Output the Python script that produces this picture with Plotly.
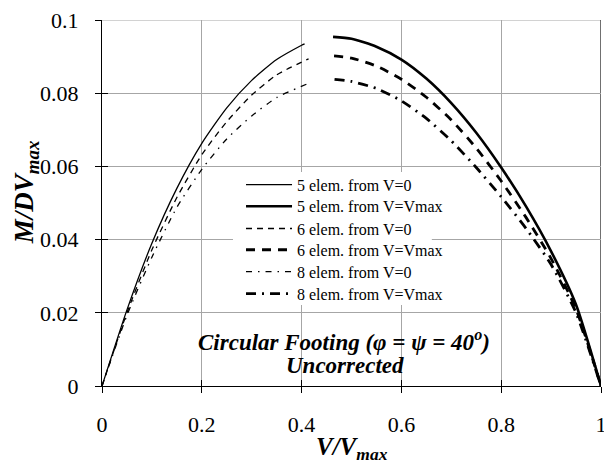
import plotly.graph_objects as go

# ---- data ----
names = ["5 elem. from V=0", "5 elem. from V=Vmax",
         "6 elem. from V=0", "6 elem. from V=Vmax",
         "8 elem. from V=0", "8 elem. from V=Vmax"]

x_5_v0 = [0, 0.05, 0.10, 0.15, 0.20, 0.25, 0.30, 0.35, 0.40, 0.406]
y_5_v0 = [0, 0.0208, 0.0390, 0.0540, 0.0663, 0.0760, 0.0835, 0.0892, 0.0931, 0.0935]

x_5_vm = [0.463, 0.50, 0.55, 0.60, 0.65, 0.70, 0.75, 0.80, 0.85, 0.90, 0.95, 1.0]
y_5_vm = [0.0954, 0.0949, 0.0927, 0.0892, 0.0840, 0.0773, 0.0692, 0.0597, 0.0490, 0.0368, 0.0222, 0]

x_6_v0 = [0, 0.05, 0.10, 0.15, 0.20, 0.25, 0.30, 0.35, 0.414]
y_6_v0 = [0, 0.0200, 0.0372, 0.0515, 0.0632, 0.0722, 0.0795, 0.0850, 0.0894]

x_6_vm = [0.465, 0.50, 0.55, 0.60, 0.65, 0.70, 0.75, 0.80, 0.85, 0.90, 0.95, 1.0]
y_6_vm = [0.0902, 0.0896, 0.0874, 0.0838, 0.0789, 0.0727, 0.0650, 0.0560, 0.0460, 0.0348, 0.0210, 0]

x_8_v0 = [0, 0.05, 0.10, 0.15, 0.20, 0.25, 0.30, 0.35, 0.414]
y_8_v0 = [0, 0.0193, 0.0352, 0.0488, 0.0592, 0.0675, 0.0738, 0.0788, 0.0827]

x_8_vm = [0.466, 0.50, 0.55, 0.60, 0.65, 0.70, 0.75, 0.80, 0.85, 0.90, 0.95, 1.0]
y_8_vm = [0.0838, 0.0832, 0.0813, 0.0779, 0.0731, 0.0670, 0.0597, 0.0517, 0.0430, 0.0332, 0.0200, 0]

x_ticks = [0, 0.2, 0.4, 0.6, 0.8, 1]
x_tick_labels = ["0", "0.2", "0.4", "0.6", "0.8", "1"]
y_ticks = [0, 0.02, 0.04, 0.06, 0.08, 0.1]
y_tick_labels = ["0", "0.02", "0.04", "0.06", "0.08", "0.1"]

series = [(x_5_v0, y_5_v0), (x_5_vm, y_5_vm), (x_6_v0, y_6_v0),
          (x_6_vm, y_6_vm), (x_8_v0, y_8_v0), (x_8_vm, y_8_vm)]

styles = [
    dict(width=1.3, dash="solid"),
    dict(width=2.6, dash="solid"),
    dict(width=1.3, dash="6px,5px"),
    dict(width=2.8, dash="9px,7px"),
    dict(width=1.3, dash="6px,6px,1.5px,6px"),
    dict(width=2.8, dash="10px,6px,2px,6px"),
]

FONT = "Liberation Serif"

# legend row centres (paper fraction of plot height)
legend_rows = [0.550, 0.491, 0.430, 0.372, 0.312, 0.252]
legend_keys = ["legend", "legend2", "legend3", "legend4", "legend5", "legend6"]

fig = go.Figure()
for (xs, ys), nm, st, lk in zip(series, names, styles, legend_keys):
    fig.add_trace(go.Scatter(
        x=xs, y=ys, name=nm, mode="lines", legend=lk,
        line=dict(color="black", width=st["width"], dash=st["dash"], shape="spline", smoothing=0.6),
        hoverinfo="skip"))

# helper trace for overlay axes (inside half of the crossing ticks)
fig.add_trace(go.Scatter(x=[None], y=[None], xaxis="x2", yaxis="y2", showlegend=False, hoverinfo="skip"))

axis_common = dict(
    showline=True, linecolor="black", linewidth=1,
    ticks="outside", ticklen=6, tickcolor="black", tickwidth=1,
    tickfont=dict(family=FONT, size=22, color="black"),
    gridcolor="#a6a6a6", gridwidth=1, zeroline=False, automargin=False,
    ticklabeloverflow="allow",
)

layout_legends = {}
for lk, yr in zip(legend_keys, legend_rows):
    layout_legends[lk] = dict(x=0.2786, y=yr, xanchor="left", yanchor="middle",
                              bgcolor="rgba(0,0,0,0)", borderwidth=0, itemwidth=46,
                              font=dict(family=FONT, size=16, color="black"))

fig.update_layout(
    width=604, height=463,
    margin=dict(l=102, r=3, t=20, b=77),
    paper_bgcolor="white", plot_bgcolor="white",
    font=dict(family=FONT, color="black"),
    xaxis=dict(range=[0, 1], tickvals=x_ticks, ticktext=x_tick_labels,
               ticklabelstandoff=13, **axis_common),
    yaxis=dict(range=[0, 0.1], tickvals=y_ticks, ticktext=y_tick_labels,
               ticklabelstandoff=12, **axis_common),
    xaxis2=dict(range=[0, 1], tickvals=x_ticks, overlaying="x", anchor="y2",
                ticks="inside", ticklen=6, tickcolor="black", showticklabels=False,
                showgrid=False, zeroline=False, showline=False, automargin=False),
    yaxis2=dict(range=[0, 0.1], tickvals=y_ticks, overlaying="y", anchor="x2",
                ticks="inside", ticklen=6, tickcolor="black", showticklabels=False,
                showgrid=False, zeroline=False, showline=False, automargin=False),
    showlegend=True,
    **layout_legends,
)

# plot-area border pieces (top gridline at 0.1 and right edge)
fig.add_shape(type="line", xref="x", yref="y", x0=0, x1=1, y0=0.1, y1=0.1,
              line=dict(color="#a6a6a6", width=1), layer="below")
fig.add_shape(type="line", xref="x", yref="y", x0=1, x1=1, y0=0, y1=0.1,
              line=dict(color="#404040", width=1.5), layer="below")
# opaque legend background
fig.add_shape(type="rect", xref="paper", yref="paper", x0=0.2625, x1=0.661, y0=0.2213, y1=0.5847,
              fillcolor="white", line=dict(width=0), layer="above")

fig.add_annotation(text="<b><i>Circular Footing (φ = ψ = 40<sup>o</sup>)</i></b>",
                   x=0.484, y=0.0124, xref="x", yref="y", showarrow=False,
                   font=dict(family=FONT, size=23, color="black"),
                   xanchor="center", yanchor="middle")
fig.add_annotation(text="<b><i>Uncorrected</i></b>",
                   x=0.486, y=0.0056, xref="x", yref="y", showarrow=False,
                   font=dict(family=FONT, size=23, color="black"),
                   xanchor="center", yanchor="middle")

fig.add_annotation(text="<b><i>V/V<sub>max</sub></i></b>",
                   x=0.5, y=-0.171, xref="paper", yref="paper", showarrow=False,
                   font=dict(family=FONT, size=25, color="black"),
                   xanchor="center", yanchor="middle")

fig.add_annotation(text="<b><i>M/DV<sub>max</sub></i></b>",
                   x=-0.152, y=0.53, xref="paper", yref="paper", showarrow=False,
                   textangle=-90,
                   font=dict(family=FONT, size=27, color="black"),
                   xanchor="center", yanchor="middle")

fig.write_html("out.html", config={"displayModeBar": False},
               post_script="document.body.style.margin='0';document.body.style.overflow='hidden';")
